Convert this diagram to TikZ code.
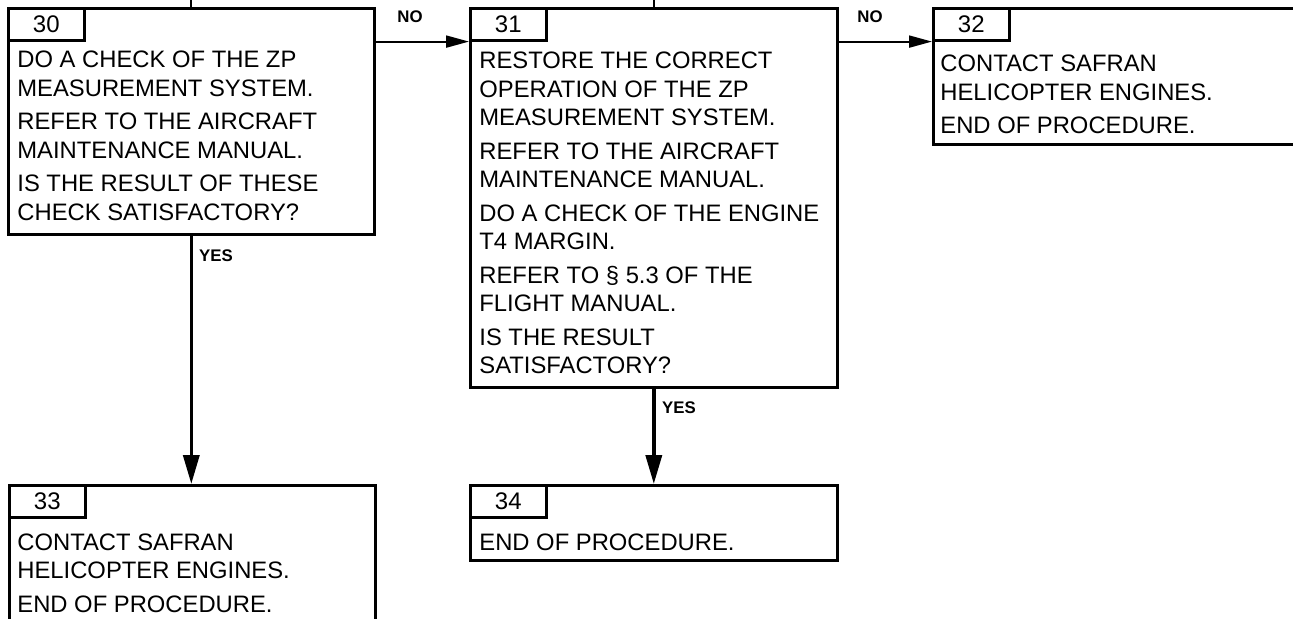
\documentclass[tikz,border=0pt]{standalone}
\usepackage{fontspec}
\setmainfont{Liberation Sans}
\usetikzlibrary{arrows.meta}

\begin{document}
\begin{tikzpicture}[x=0.5pt, y=-0.5pt,
    box/.style={draw, line width=1.3pt, anchor=north west, inner sep=0pt},
    tab/.style={draw, line width=1.3pt, anchor=north west, inner sep=0pt,
        minimum width=38pt, minimum height=16pt, font=\fontsize{12}{14}\selectfont},
    txt/.style={anchor=base west, inner sep=0pt, font=\fontsize{11.9}{14.25}\selectfont},
    lbl/.style={anchor=base, inner sep=0pt, font=\fontsize{8.4}{10}\selectfont\bfseries},
    yesline/.style={line width=1.8pt, -{Triangle[length=14.5pt, width=8pt]}},
    noline/.style={line width=1pt, -{Triangle[length=11.5pt, width=6pt]}}]

\useasboundingbox (0,0) rectangle (1293,619);
\clip (0,0) rectangle (1293,619);

% Boxes with their step numbers
\foreach \n/\x/\y/\w/\h in {30/7/7/366/226, 31/469/7/367/379, 32/932/7/420/136,
                            33/8/484/366/160, 34/469/484/367/75} {
    \node[box, minimum width=\w*0.5pt, minimum height=\h*0.5pt] (b\n) at (\x,\y) {};
    \node[tab] (t\n) at (b\n.north west) {\n};
}

% Step texts
\node[txt] (s30) at (17,68) {\parbox[t]{180pt}{
    DO A CHECK OF THE ZP\\
    MEASUREMENT SYSTEM.\\[2.5pt]
    REFER TO THE AIRCRAFT\\
    MAINTENANCE MANUAL.\\[2.5pt]
    IS THE RESULT OF THESE\\
    CHECK SATISFACTORY?}};

\node[txt] (s31) at (479,69) {\parbox[t]{180pt}{
    RESTORE THE CORRECT\\
    OPERATION OF THE ZP\\
    MEASUREMENT SYSTEM.\\[2.5pt]
    REFER TO THE AIRCRAFT\\
    MAINTENANCE MANUAL.\\[2.5pt]
    DO A CHECK OF THE ENGINE\\
    T4 MARGIN.\\[2.5pt]
    REFER TO § 5.3 OF THE\\
    FLIGHT MANUAL.\\[2.5pt]
    IS THE RESULT\\
    SATISFACTORY?}};

\node[txt] (s32) at (940,72) {\parbox[t]{180pt}{
    CONTACT SAFRAN\\
    HELICOPTER ENGINES.\\[2.5pt]
    END OF PROCEDURE.}};

\node[txt] (s33) at (17,550) {\parbox[t]{180pt}{
    CONTACT SAFRAN\\
    HELICOPTER ENGINES.\\[2.5pt]
    END OF PROCEDURE.}};

\node[txt] (s34) at (479,550) {\parbox[t]{180pt}{
    END OF PROCEDURE.}};

% Incoming lines from above
\coordinate (top30) at ([yshift=5pt]b30.north);
\coordinate (top31) at ([yshift=5pt]b31.north);
\draw[line width=1pt] (top30) -- (b30.north);
\draw[line width=1pt] (top31) -- (b31.north);

% NO branches
\draw[noline] (b30.east |- t31.south west) -- (t31.south west);
\draw[noline] (b31.east |- t32.south west) -- (t32.south west);
\node[lbl] (no30) at (410,23) {NO};
\node[lbl] (no31) at (870,23) {NO};

% YES branches
\draw[yesline] (b30.south) -- (b30.south |- b33.north);
\draw[yesline] (b31.south) -- (b31.south |- b34.north);
\node[lbl] (yes30) at (216,262) {YES};
\node[lbl] (yes31) at (679,414) {YES};

\end{tikzpicture}
\end{document}
